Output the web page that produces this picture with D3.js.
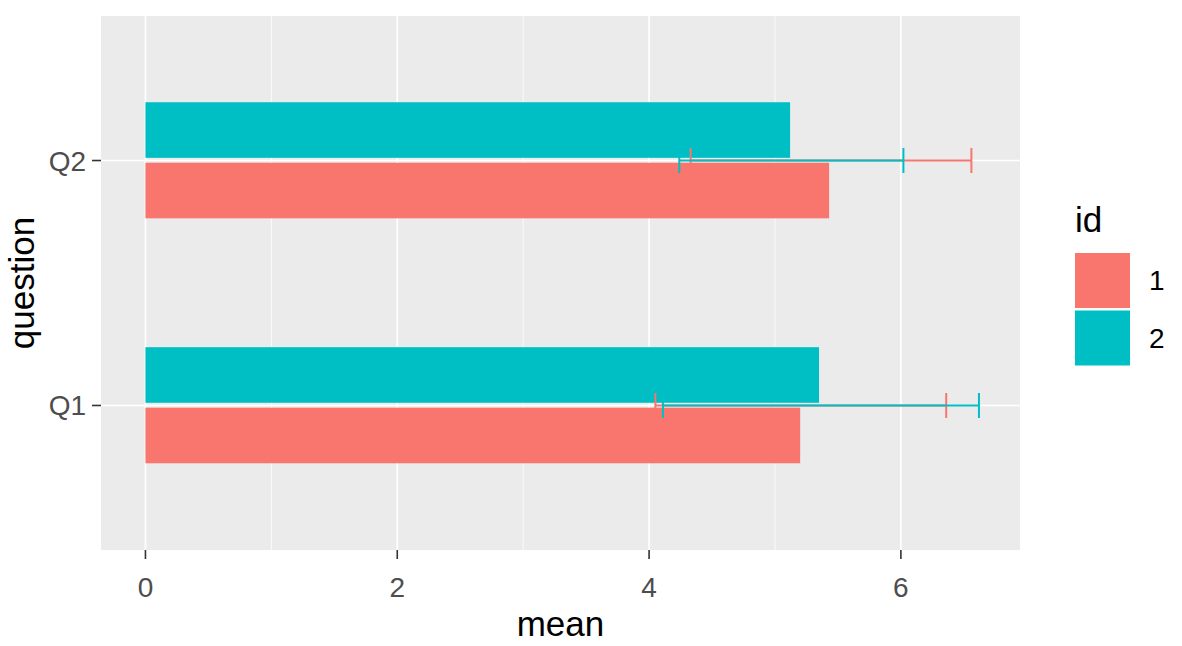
<!DOCTYPE html>
<html><head><meta charset="utf-8">
<script src="https://cdn.jsdelivr.net/npm/d3@7"></script>
<style>body{margin:0;background:#fff}svg{display:block}text{font-family:"Liberation Sans",Arial,sans-serif}</style>
</head><body>
<svg id="c" width="1182" height="646"></svg>
<script>
const questions = ["Q1","Q2"];
const ids = ["1","2"];
const meanValues = {"1":[5.20,5.43],"2":[5.35,5.12]};
const lowerValues = {"1":[4.05,4.33],"2":[4.11,4.24]};
const upperValues = {"1":[6.36,6.56],"2":[6.62,6.02]};
const xTicks = [0,2,4,6];
const xMinor = [1,3,5];
const colors = {"1":"#F8766D","2":"#00BFC4"};

const svg = d3.select("#c");
const P = {l:101, r:1020, t:16, b:550};
const x = d3.scaleLinear().domain([-0.353, 6.946]).range([P.l, P.r]);
const y = d3.scaleLinear().domain([0.41, 2.59]).range([P.b, P.t]);
const qpos = q => questions.indexOf(q) + 1;

svg.append("rect").attr("x",P.l).attr("y",P.t).attr("width",P.r-P.l).attr("height",P.b-P.t).attr("fill","#EBEBEB");
const g = svg.append("g");
xMinor.forEach(v=>g.append("line").attr("x1",x(v)).attr("x2",x(v)).attr("y1",P.t).attr("y2",P.b).attr("stroke","#fff").attr("stroke-width",0.8));
xTicks.forEach(v=>g.append("line").attr("x1",x(v)).attr("x2",x(v)).attr("y1",P.t).attr("y2",P.b).attr("stroke","#fff").attr("stroke-width",1.6));
questions.forEach(q=>g.append("line").attr("x1",P.l).attr("x2",P.r).attr("y1",y(qpos(q))).attr("y2",y(qpos(q))).attr("stroke","#fff").attr("stroke-width",1.6));

// bars (dodged)
const offset = {"1":-0.1225,"2":0.1245};
const barH = 0.227;
ids.forEach(id=>{
  questions.forEach((q,i)=>{
    const c = qpos(q)+offset[id];
    svg.append("rect")
      .attr("x",x(0)).attr("width",x(meanValues[id][i])-x(0))
      .attr("y",y(c+barH/2)).attr("height",y(c-barH/2)-y(c+barH/2))
      .attr("fill",colors[id]);
  });
});
// error bars (not dodged)
const capH = 0.051;
ids.forEach(id=>{
  questions.forEach((q,i)=>{
    const c = qpos(q);
    const eg = svg.append("g").attr("stroke",colors[id]).attr("stroke-width",2).attr("fill","none");
    eg.append("line").attr("x1",x(lowerValues[id][i])).attr("x2",x(upperValues[id][i])).attr("y1",y(c)).attr("y2",y(c));
    [lowerValues[id][i],upperValues[id][i]].forEach(v=>
      eg.append("line").attr("x1",x(v)).attr("x2",x(v)).attr("y1",y(c+capH)).attr("y2",y(c-capH)));
  });
});

// axes
const tickCol = "#333333", labCol = "#4D4D4D";
xTicks.forEach(v=>{
  svg.append("line").attr("x1",x(v)).attr("x2",x(v)).attr("y1",P.b).attr("y2",P.b+9).attr("stroke",tickCol).attr("stroke-width",1.6);
  svg.append("text").attr("x",x(v)).attr("y",597).attr("text-anchor","middle").attr("font-size",28).attr("fill",labCol).text(v);
});
questions.forEach(q=>{
  svg.append("line").attr("x1",P.l-9).attr("x2",P.l).attr("y1",y(qpos(q))).attr("y2",y(qpos(q))).attr("stroke",tickCol).attr("stroke-width",1.6);
  svg.append("text").attr("x",86).attr("y",y(qpos(q))+10).attr("text-anchor","end").attr("font-size",28).attr("fill",labCol).text(q);
});
svg.append("text").attr("x",(P.l+P.r)/2).attr("y",636).attr("text-anchor","middle").attr("font-size",35).attr("fill","#000").text("mean");
svg.append("text").attr("transform",`translate(34,${(P.t+P.b)/2}) rotate(-90)`).attr("text-anchor","middle").attr("font-size",35).attr("fill","#000").text("question");

// legend
svg.append("text").attr("x",1075).attr("y",232).attr("font-size",35).attr("fill","#000").text("id");
ids.forEach((id,i)=>{
  const ky = 253 + i*57.5;
  svg.append("rect").attr("x",1075).attr("y",ky).attr("width",55).attr("height",55).attr("fill",colors[id]);
  svg.append("text").attr("x",1149).attr("y",ky+37).attr("font-size",28).attr("fill","#000").text(id);
});
</script>
</body></html>
